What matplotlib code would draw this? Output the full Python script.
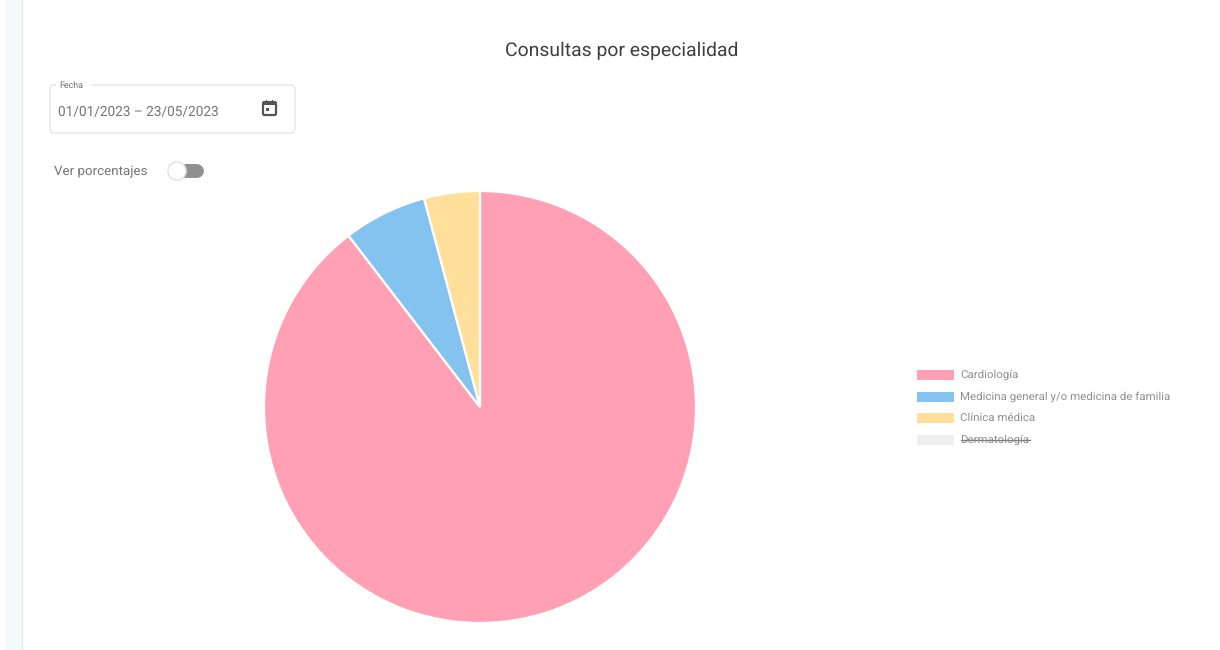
import matplotlib
matplotlib.use('Agg')
import matplotlib.pyplot as plt
from matplotlib.patches import FancyBboxPatch, Rectangle, Circle

plt.rcParams['font.family'] = ['Roboto', 'DejaVu Sans']
plt.rcParams['text.hinting'] = 'no_hinting'

# Datos
especialidades = ['Cardiología', 'Medicina general y/o medicina de familia', 'Clínica médica', 'Dermatología']
consultas = [86, 6, 4]
colores = ['#ffa0b4', '#84c3f0', '#ffdf99', '#efefef']
oculta = 'Dermatología'
titulo = 'Consultas por especialidad'
fecha = '01/01/2023 – 23/05/2023'

W, H = 1220, 650
fig = plt.figure(figsize=(W / 100, H / 100), dpi=100, facecolor='white')

# capa en pixeles para los controles
ui = fig.add_axes([0, 0, 1, 1])
ui.set_xlim(0, W)
ui.set_ylim(H, 0)
ui.axis('off')

# franja lateral
ui.add_patch(Rectangle((6, 0), 16, H, fc='#f3faf9', ec='none'))
ui.plot([22, 22], [0, H], color='#e2ecea', lw=1)

ui.text(621.5, 50.5, titulo, ha='center', va='center', fontsize=13.95, color='#404040')

# selector de fecha
ui.add_patch(FancyBboxPatch((50, 85), 245, 48, boxstyle='round,pad=0,rounding_size=4',
                            fc='white', ec='#e0e0e0', lw=0.8))
ui.plot([56, 92], [85, 85], color='white', lw=3, solid_capstyle='butt')
ui.text(59, 85.5, 'Fecha', ha='left', va='center', fontsize=6.4, color='#707070')
ui.text(58, 111.5, fecha, ha='left', va='center', fontsize=9.85, color='#757575')

# icono calendario
ui.add_patch(FancyBboxPatch((263, 102), 13, 13, boxstyle='round,pad=0,rounding_size=1.5',
                            fc='white', ec='#555555', lw=1.6))
ui.add_patch(Rectangle((263, 102), 13, 3, fc='#555555', ec='none'))
ui.add_patch(Rectangle((266, 100), 1.4, 3, fc='#555555', ec='none'))
ui.add_patch(Rectangle((272, 100), 1.4, 3, fc='#555555', ec='none'))
ui.add_patch(Rectangle((266, 108), 3, 3, fc='#555555', ec='none'))

# interruptor
ui.text(54, 171.5, 'Ver porcentajes', ha='left', va='center', fontsize=9.6, color='#757575')
ui.plot([180, 197], [171, 171], color='#909090', lw=10, solid_capstyle='round', zorder=2)
ui.add_patch(Circle((177, 171), 10, fc='#e4e4e4', ec='none', alpha=0.7, zorder=3))
ui.add_patch(Circle((177, 171), 8.8, fc='white', ec='#e6e6e6', lw=0.8, zorder=4))

# torta
cx, cy, r = 480, 407, 216
ax = fig.add_axes([(cx - r) / W, 1 - (cy + r) / H, 2 * r / W, 2 * r / H])
ax.pie(consultas, colors=colores[:3], startangle=90, counterclock=False, radius=1,
       wedgeprops=dict(edgecolor='white', linewidth=1.6))
ax.set_xlim(-1, 1)
ax.set_ylim(-1, 1)

# leyenda
for i, (nombre, color) in enumerate(zip(especialidades, colores)):
    y = 375 + i * 21.5
    ui.add_patch(Rectangle((917, y - 5), 37, 10, fc=color, ec='none'))
    t = ui.text(960.5, y, nombre, ha='left', va='center', fontsize=8.27, color='#8e8e8e')
    if nombre == oculta:
        bb = t.get_window_extent(fig.canvas.get_renderer())
        ui.plot([bb.x0, bb.x1], [y + 0.3, y + 0.3], color='#777777', lw=0.9)

fig.savefig('out.png', dpi=100)
